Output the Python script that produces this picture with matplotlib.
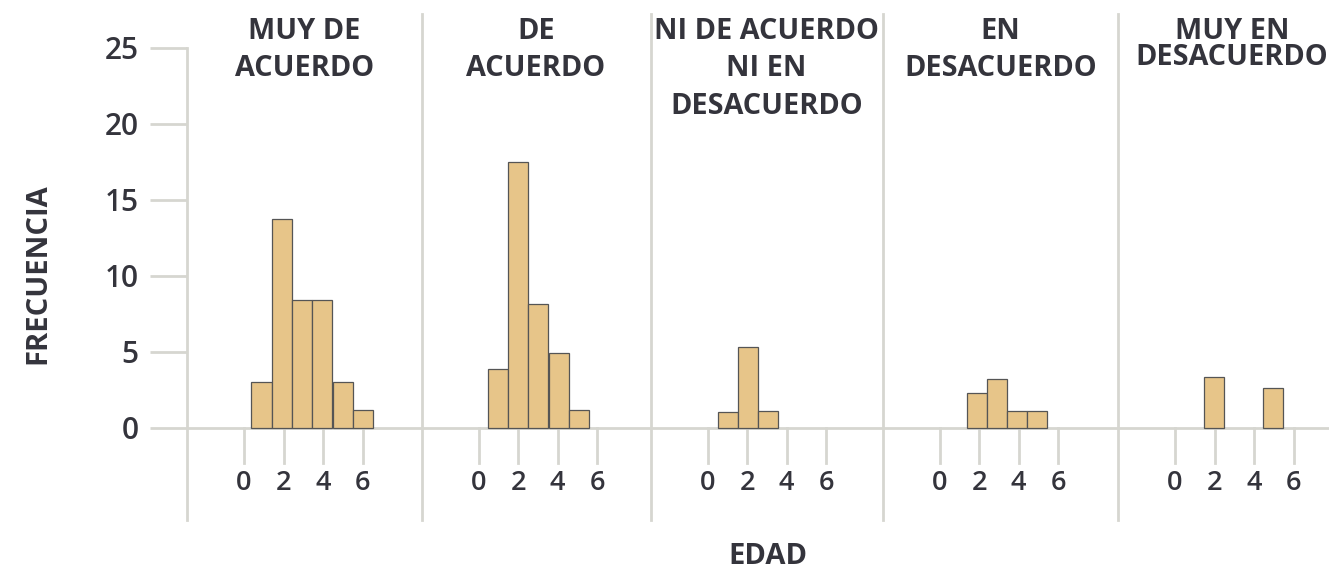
import matplotlib
matplotlib.use("Agg")
import matplotlib.pyplot as plt

# data
panel_titles = [
    "MUY DE\nACUERDO",
    "DE\nACUERDO",
    "NI DE ACUERDO\nNI EN\nDESACUERDO",
    "EN\nDESACUERDO",
    "MUY EN\nDESACUERDO",
]
bar_centers = [
    [0.88, 1.90, 2.93, 3.95, 4.98, 6.00],
    [0.98, 2.00, 3.02, 4.05, 5.07],
    [1.03, 2.05, 3.06],
    [1.89, 2.91, 3.93, 4.94],
    [1.96, 4.94],
]
bar_heights = [
    [3.0, 13.7, 8.4, 8.4, 3.0, 1.15],
    [3.85, 17.5, 8.15, 4.9, 1.15],
    [1.05, 5.3, 1.1],
    [2.3, 3.2, 1.1, 1.1],
    [3.35, 2.6],
]
bin_width = 1.02
x_ticks = [0, 2, 4, 6]
y_ticks = [0, 5, 10, 15, 20, 25]

TEXT = "#34343c"
LINE = "#d6d6d0"
FILL = "#e7c589"
EDGE = "#555555"

W, H = 1329, 570
plt.rcParams["font.family"] = ["Open Sans", "DejaVu Sans"]
fig = plt.figure(figsize=(W / 100, H / 100), dpi=100)

lefts = [187, 421.5, 650.5, 882.5, 1118]
rights = [421.5, 650.5, 882.5, 1118, 1346]
top_px, bot_px = 14, 520
zero_px, px_per_x = 57, 19.8
base_px, px_per_y = 427.7, 15.2

for i, (title, xs, hs) in enumerate(zip(panel_titles, bar_centers, bar_heights)):
    L, R = lefts[i], rights[i]
    ax = fig.add_axes([L / W, 1 - bot_px / H, (R - L) / W, (bot_px - top_px) / H])
    ax.set_xlim(-zero_px / px_per_x, (R - L - zero_px) / px_per_x)
    ax.set_ylim(-(bot_px - base_px) / px_per_y, 25 + (base_px - 25 * px_per_y - top_px) / px_per_y)
    ax.patch.set_alpha(0)

    ax.axhline(0, color=LINE, lw=2, zorder=1)
    ax.bar(xs, hs, width=bin_width, color=FILL, edgecolor=EDGE, linewidth=0.9, zorder=3)

    for side in ["top", "right", "bottom"]:
        ax.spines[side].set_visible(False)
    ax.spines["left"].set_color(LINE)
    ax.spines["left"].set_linewidth(2)

    # x ticks hang from the baseline, not from the axes bottom
    ax.set_xticks([])
    for t in x_ticks:
        ax.plot([t, t], [0, -35 / px_per_y], color=LINE, lw=2, zorder=1, clip_on=False)
        ax.text(t, -(483 - base_px) / px_per_y, str(t), ha="center", va="center",
                fontsize=19.5, fontweight="semibold", color=TEXT)

    if i == 0:
        ax.spines["left"].set_bounds(ax.get_ylim()[0], 25)
        ax.set_yticks(y_ticks)
        ax.tick_params(axis="y", length=27, width=2, color=LINE, labelsize=21.5,
                       labelcolor=TEXT, pad=8)
        for lab in ax.get_yticklabels():
            lab.set_fontweight("semibold")
    else:
        ax.set_yticks([])

    cx = (L + R) / 2
    spacing = 0.86 if i == 4 else 1.38
    fig.text(cx / W, 1 - 17 / H, title, ha="center", va="top", fontsize=20.8,
             fontweight="bold", color=TEXT, linespacing=spacing)

fig.text(37.5 / W, 1 - 274 / H, "FRECUENCIA", rotation=90, ha="center", va="center",
         fontsize=21, fontweight="bold", color=TEXT)
fig.text(768 / W, 1 - 556 / H, "EDAD", ha="center", va="center",
         fontsize=21, fontweight="bold", color=TEXT)

fig.savefig("out.png", dpi=100)
